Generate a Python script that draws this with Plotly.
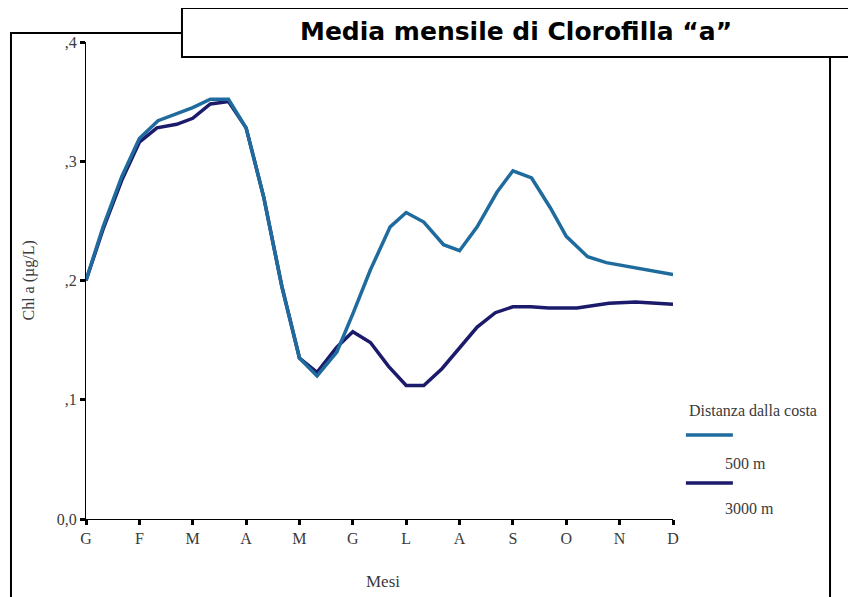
import plotly.graph_objects as go

# mesi (indice 0 = gennaio) e valori
mesi_tick = ["G", "F", "M", "A", "M", "G", "L", "A", "S", "O", "N", "D"]

x_500 = [0, 0.32, 0.67, 1.0, 1.35, 2.0, 2.33, 2.67, 3.0, 3.33, 3.67, 4.0, 4.33, 4.7,
         5.0, 5.33, 5.7, 6.0, 6.33, 6.7, 7.0, 7.33, 7.7, 8.0, 8.35, 8.7, 9.0, 9.4,
         9.75, 10.25, 11.0]
y_500 = [0.200, 0.245, 0.287, 0.319, 0.334, 0.345, 0.352, 0.352, 0.328, 0.270, 0.195,
         0.135, 0.120, 0.140, 0.172, 0.209, 0.245, 0.257, 0.249, 0.230, 0.225, 0.245,
         0.274, 0.292, 0.286, 0.261, 0.237, 0.220, 0.215, 0.211, 0.205]

x_3000 = [0, 0.32, 0.67, 1.0, 1.33, 1.7, 2.0, 2.33, 2.67, 3.0, 3.33, 3.67, 4.0, 4.33,
          4.7, 5.0, 5.33, 5.67, 6.0, 6.33, 6.67, 7.0, 7.33, 7.67, 8.0, 8.33, 8.67,
          9.2, 9.8, 10.3, 10.7, 11.0]
y_3000 = [0.200, 0.243, 0.284, 0.316, 0.328, 0.331, 0.336, 0.348, 0.350, 0.328, 0.270,
          0.195, 0.135, 0.123, 0.144, 0.157, 0.148, 0.128, 0.112, 0.112, 0.126, 0.144,
          0.161, 0.173, 0.178, 0.178, 0.177, 0.177, 0.181, 0.182, 0.181, 0.180]

y_tick = [0, 0.1, 0.2, 0.3, 0.4]
y_tick_txt = ["0,0", ",1", ",2", ",3", ",4"]

col_500 = "#1f6b9e"
col_3000 = "#1b1a6b"
serif = "Liberation Serif, Times New Roman, serif"
grigio = "#3a3a3a"

fig = go.Figure()
# 3000 m prima, così la 500 m resta sopra dove le linee coincidono
fig.add_trace(go.Scatter(x=x_3000, y=y_3000, mode="lines", name="3000 m",
                         line=dict(color=col_3000, width=3.5)))
fig.add_trace(go.Scatter(x=x_500, y=y_500, mode="lines", name="500 m",
                         line=dict(color=col_500, width=3.5)))

# cornice esterna e riquadro del titolo
fig.add_shape(type="path", xref="paper", yref="paper",
              path="M 0.1635 1.0189 L -0.1278 1.0189 L -0.1278 -0.2",
              line=dict(color="black", width=2))
fig.add_shape(type="line", xref="paper", yref="paper", x0=1.2675, x1=1.2675,
              y0=0.9686, y1=-0.2, line=dict(color="black", width=2))
fig.add_shape(type="rect", xref="paper", yref="paper", x0=0.1635, x1=1.303,
              y0=0.9686, y1=1.0713, fillcolor="white", line=dict(color="black", width=2))
fig.add_annotation(text="<b>Media mensile di Clorofilla “a”</b>", xref="paper", yref="paper",
                   x=0.7325, y=1.023, showarrow=False, xanchor="center", yanchor="middle",
                   font=dict(family="DejaVu Sans", size=25, color="black"))

# legenda
fig.add_annotation(text="Distanza dalla costa", xref="paper", yref="paper", x=1.0235, y=0.2285,
                   showarrow=False, xanchor="left", yanchor="middle",
                   font=dict(family=serif, size=16, color=grigio))
for yy, yt, col, lab in [(0.176, 0.117, col_500, "500 m"), (0.0755, 0.021, col_3000, "3000 m")]:
    fig.add_shape(type="line", xref="paper", yref="paper", x0=1.022, x1=1.102, y0=yy, y1=yy,
                  line=dict(color=col, width=3.5))
    fig.add_annotation(text=lab, xref="paper", yref="paper", x=1.085, y=yt, showarrow=False,
                       xanchor="left", yanchor="middle", font=dict(family=serif, size=16, color=grigio))

fig.add_annotation(text="Chl a (µg/L)", xref="paper", yref="paper", x=-0.0988, y=0.50,
                   textangle=-90, showarrow=False, xanchor="center", yanchor="middle",
                   font=dict(family=serif, size=16, color=grigio))
fig.add_annotation(text="Mesi", xref="paper", yref="paper", x=0.506, y=-0.132,
                   showarrow=False, xanchor="center", yanchor="middle",
                   font=dict(family=serif, size=17, color=grigio))

fig.update_layout(
    width=856, height=597,
    plot_bgcolor="white", paper_bgcolor="white",
    showlegend=False,
    margin=dict(l=78, r=191, t=34, b=86),
    xaxis=dict(range=[0, 11], tickvals=list(range(12)), ticktext=mesi_tick,
               showgrid=False, zeroline=False, showline=True, linecolor="black", linewidth=1.3,
               ticks="outside", ticklen=5, tickwidth=3, tickcolor="black",
               tickfont=dict(family=serif, size=16, color=grigio)),
    yaxis=dict(range=[0, 0.4], tickvals=y_tick, ticktext=y_tick_txt,
               showgrid=False, zeroline=False, showline=True, linecolor="black", linewidth=1.3,
               ticks="outside", ticklen=5, tickwidth=3, tickcolor="black",
               tickfont=dict(family=serif, size=16, color=grigio)),
)

fig.write_html("out.html")
